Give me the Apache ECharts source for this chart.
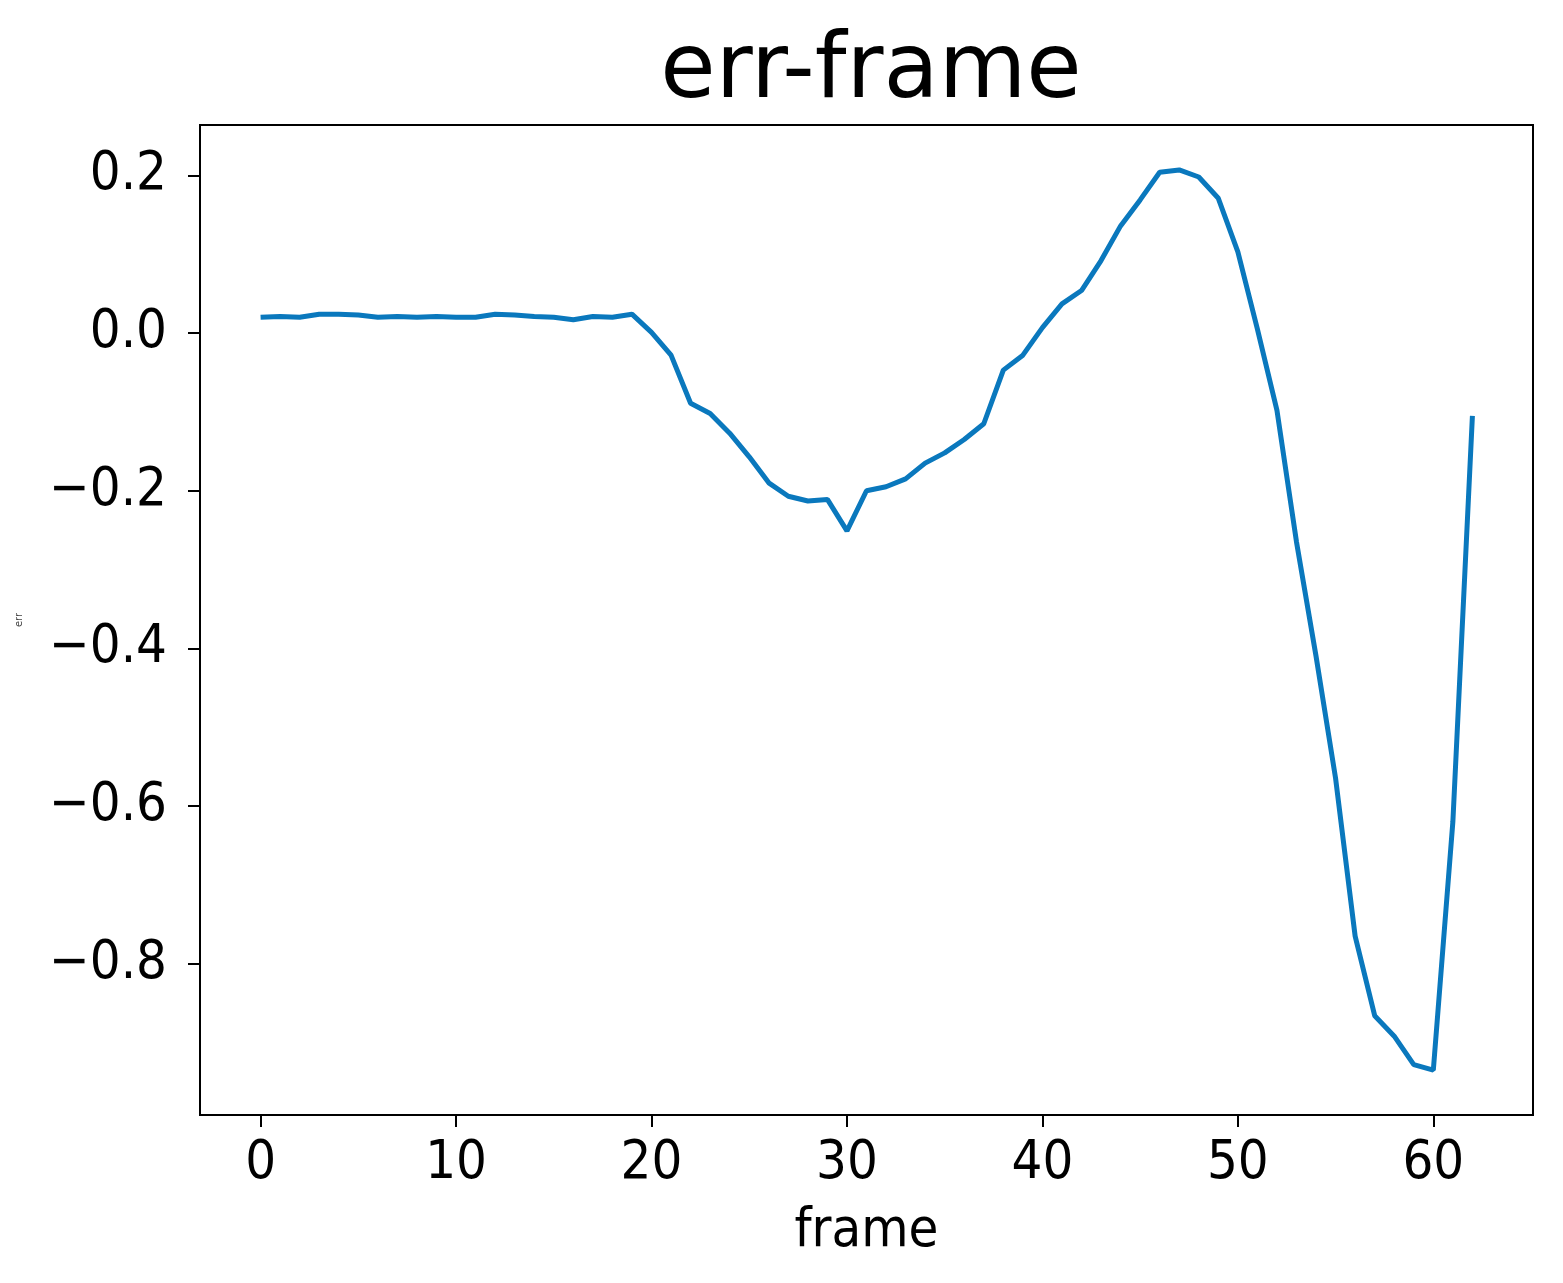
<!DOCTYPE html>
<html>
<head>
<meta charset="utf-8">
<title>err-frame</title>
<script src="https://cdn.jsdelivr.net/npm/echarts@6/dist/echarts.min.js"></script>
<style>
  html, body { margin: 0; padding: 0; background: #fff; }
  #chart { width: 1563px; height: 1283px; }
</style>
</head>
<body>
<div id="chart"></div>
<script>
// frame index along x
var frames = [
  0, 1, 2, 3, 4, 5, 6, 7, 8, 9,
  10, 11, 12, 13, 14, 15, 16, 17, 18, 19,
  20, 21, 22, 23, 24, 25, 26, 27, 28, 29,
  30, 31, 32, 33, 34, 35, 36, 37, 38, 39,
  40, 41, 42, 43, 44, 45, 46, 47, 48, 49,
  50, 51, 52, 53, 54, 55, 56, 57, 58, 59,
  60, 61, 62
];
// err
var errValues = [
  0.020, 0.021, 0.020, 0.024, 0.024, 0.023, 0.020, 0.021, 0.020, 0.021,
  0.020, 0.020, 0.024, 0.023, 0.021, 0.020, 0.017, 0.021, 0.020, 0.024,
  0.001, -0.028, -0.089, -0.102, -0.127, -0.157, -0.190, -0.207, -0.213, -0.211,
  -0.251, -0.200, -0.195, -0.185, -0.165, -0.152, -0.135, -0.115, -0.047, -0.028,
  0.007, 0.037, 0.054, 0.092, 0.136, 0.169, 0.204, 0.207, 0.198, 0.171,
  0.103, 0.005, -0.098, -0.265, -0.410, -0.565, -0.765, -0.866, -0.892, -0.928,
  -0.935, -0.620, -0.105
];
var xTicks = [0, 10, 20, 30, 40, 50, 60];
var yTicks = [-0.8, -0.6, -0.4, -0.2, 0.0, 0.2];

var lineData = frames.map(function (f, i) { return [f, errValues[i]]; });

var tickFont = '"DejaVu Sans Condensed", "DejaVu Sans", sans-serif';

var chart = echarts.init(document.getElementById('chart'));
var option = {
  animation: false,
  backgroundColor: '#fff',
  title: {
    text: 'err-frame',
    left: 866,
    textAlign: 'center',
    top: 24,
    textStyle: {
      fontFamily: '"DejaVu Sans", sans-serif',
      fontSize: 90,
      fontWeight: 'normal',
      color: '#000'
    }
  },
  grid: {
    left: 200,
    right: 30,
    top: 125,
    bottom: 168,
    show: true,
    borderColor: '#000',
    borderWidth: 2,
    backgroundColor: 'transparent'
  },
  xAxis: {
    type: 'value',
    min: -3.1,
    max: 65.1,
    name: 'frame',
    nameLocation: 'middle',
    nameGap: 90,
    nameTextStyle: { fontFamily: tickFont, fontSize: 54, color: '#000' },
    axisLine: { show: true, onZero: false, lineStyle: { color: '#000', width: 2 } },
    axisTick: { show: true, length: 12, lineStyle: { color: '#000', width: 2 }, customValues: xTicks },
    axisLabel: {
      customValues: xTicks,
      margin: 22,
      fontFamily: tickFont,
      fontSize: 54,
      color: '#000'
    },
    splitLine: { show: false }
  },
  yAxis: {
    type: 'value',
    min: -0.992,
    max: 0.264,
    name: 'err',
    nameLocation: 'middle',
    nameRotate: 90,
    nameGap: 176,
    nameTextStyle: { fontFamily: '"DejaVu Sans", sans-serif', fontSize: 10, color: '#444' },
    axisLine: { show: true, onZero: false, lineStyle: { color: '#000', width: 2 } },
    axisTick: { show: true, length: 12, lineStyle: { color: '#000', width: 2 }, customValues: yTicks },
    axisLabel: {
      customValues: yTicks,
      margin: 33,
      fontFamily: tickFont,
      fontSize: 54,
      color: '#000',
      formatter: function (v) {
        return v < 0 ? '\u2212' + Math.abs(v).toFixed(1) : v.toFixed(1);
      }
    },
    splitLine: { show: false }
  },
  series: [
    {
      name: 'err',
      type: 'line',
      data: lineData,
      showSymbol: false,
      lineStyle: { color: '#0a78bd', width: 5 },
      itemStyle: { color: '#0a78bd' }
    }
  ]
};
chart.setOption(option);
window.addEventListener('resize', function () {
  chart.resize();
});
</script>
</body>
</html>
